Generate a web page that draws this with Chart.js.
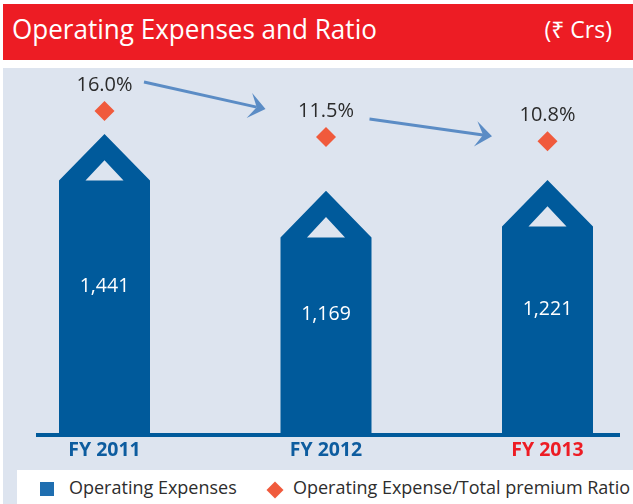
<!DOCTYPE html>
<html>
<head>
<meta charset="utf-8">
<script src="https://cdn.jsdelivr.net/npm/chart.js@4.4.1/dist/chart.umd.min.js"></script>
<style>
html,body{margin:0;padding:0;background:#fff;width:633px;height:504px;overflow:hidden;font-family:"Open Sans","Noto Sans","DejaVu Sans",sans-serif}
#titlebar{position:absolute;left:3px;top:4px;width:630px;height:56px;background:#ed1c24;color:#fff;overflow:hidden}
#title{position:absolute;left:9px;top:11px;font-size:27px;line-height:27px;white-space:nowrap;transform:scaleX(0.965);transform-origin:0 0}
#unit{position:absolute;right:21px;top:14px;font-size:23px;line-height:23px;white-space:nowrap;font-family:"Open Sans","Noto Sans","DejaVu Sans",sans-serif}
#panel{position:absolute;left:3px;top:68px;width:630px;height:436px;background:#dde4ef}
#wrap{position:absolute;left:0;top:0;width:633px;height:504px}
#legend{position:absolute;left:17px;top:470px;width:616px;height:34px;background:#fff;overflow:hidden;white-space:nowrap;color:#2d2d2d;font-size:18px}
.lg-text{position:absolute;top:7px;line-height:20px;font-size:18px}
</style>
</head>
<body>
<div id="titlebar"><div id="title">Operating Expenses and Ratio</div><div id="unit">(₹ Crs)</div></div>
<div id="panel"></div>
<div id="wrap"><canvas id="c" width="633" height="504"></canvas></div>
<div id="legend"></div>
<script>
// ---- data ----
const categories = ['FY 2011', 'FY 2012', 'FY 2013'];
const opexValues = [1441, 1169, 1221];
const opexLabels = ['1,441', '1,169', '1,221'];
const ratioValues = [16.0, 11.5, 10.8];
const ratioLabels = ['16.0%', '11.5%', '10.8%'];
const seriesNames = ['Operating Expenses', 'Operating Expense/Total premium Ratio'];

// ---- styles ----
const BAR = '#005a9b';
const DIAMOND = '#f05a3c';
const ARROW = '#5b8cc5';
const TICK_BLUE = '#0d5c9f';
const TICK_RED = '#ed1c24';
const FONT = '"Open Sans","Noto Sans","DejaVu Sans",sans-serif';

const housePlugin = {
  id: 'house',
  beforeDatasetDraw(chart, args) {
    const ds = chart.data.datasets[args.index];
    if (ds.type !== 'bar') return;
    const ctx = chart.ctx;
    ctx.save();
    args.meta.data.forEach(bar => {
      const p = bar.getProps(['x', 'y', 'base', 'width'], true);
      const L = p.x - p.width / 2, R = p.x + p.width / 2;
      const rh = p.width * 0.512;
      const eave = p.y + rh;
      const iw = p.width * 0.209;
      ctx.beginPath();
      ctx.moveTo(L, p.base);
      ctx.lineTo(L, eave);
      ctx.lineTo(p.x, p.y);
      ctx.lineTo(R, eave);
      ctx.lineTo(R, p.base);
      ctx.closePath();
      ctx.moveTo(p.x - iw, eave);
      ctx.lineTo(p.x, eave - iw * 1.07);
      ctx.lineTo(p.x + iw, eave);
      ctx.closePath();
      ctx.fillStyle = ds.backgroundColor;
      ctx.fill('evenodd');
    });
    ctx.restore();
    return false;
  }
};

function drawArrow(ctx, x0, y0, x1, y1) {
  const dx = x1 - x0, dy = y1 - y0, len = Math.hypot(dx, dy);
  const ux = dx / len, uy = dy / len, nx = -uy, ny = ux;
  const head = 16.5, half = 12.8, notch = 9;
  ctx.save();
  ctx.strokeStyle = ARROW; ctx.fillStyle = ARROW; ctx.lineWidth = 3;
  ctx.beginPath(); ctx.moveTo(x0, y0); ctx.lineTo(x1 - ux * notch, y1 - uy * notch); ctx.stroke();
  ctx.beginPath();
  ctx.moveTo(x1, y1);
  ctx.lineTo(x1 - ux * head + nx * half, y1 - uy * head + ny * half);
  ctx.lineTo(x1 - ux * notch, y1 - uy * notch);
  ctx.lineTo(x1 - ux * head - nx * half, y1 - uy * head - ny * half);
  ctx.closePath(); ctx.fill();
  ctx.restore();
}

const annotPlugin = {
  id: 'annot',
  afterDatasetsDraw(chart) {
    const ctx = chart.ctx;
    const xs = chart.scales.x, ys = chart.scales.y;
    const bars = chart.getDatasetMeta(0).data;
    const pts = chart.getDatasetMeta(1).data;
    ctx.save();
    // baseline
    const by = ys.getPixelForValue(0);
    ctx.fillStyle = BAR;
    ctx.fillRect(xs.left - 68.5, by - 2, (xs.right + 72.5) - (xs.left - 68.5), 4);
    // value labels in bars
    ctx.fillStyle = '#ffffff';
    ctx.font = '19.5px ' + FONT;
    ctx.textAlign = 'center';
    ctx.textBaseline = 'middle';
    bars.forEach((b, i) => {
      ctx.fillText(opexLabels[i], b.x, (b.y + b.base) / 2 + 2);
    });
    // ratio labels
    ctx.fillStyle = '#2b2b2b';
    ctx.font = '20px ' + FONT;
    pts.forEach((p, i) => {
      ctx.fillText(ratioLabels[i], p.x, p.y - 26);
    });
    // arrows between ratio points
    drawArrow(ctx, pts[0].x + 39.5, pts[0].y - 29, pts[1].x - 60.5, pts[1].y - 28);
    drawArrow(ctx, pts[1].x + 43.5, pts[1].y - 18, pts[2].x - 55.5, pts[2].y - 5);
    ctx.restore();
  }
};

const chart = new Chart(document.getElementById('c'), {
  type: 'bar',
  data: {
    labels: categories,
    datasets: [
      {
        type: 'bar',
        label: seriesNames[0],
        data: opexValues,
        backgroundColor: BAR,
        borderWidth: 0,
        barThickness: 91,
        yAxisID: 'y',
        order: 2,
        clip: false
      },
      {
        type: 'line',
        label: seriesNames[1],
        data: ratioValues,
        yAxisID: 'y2',
        showLine: false,
        pointStyle: 'rectRot',
        pointRadius: 10,
        pointHoverRadius: 10,
        pointBackgroundColor: DIAMOND,
        pointBorderColor: DIAMOND,
        pointBorderWidth: 0,
        backgroundColor: DIAMOND,
        borderColor: DIAMOND,
        order: 1,
        clip: false
      }
    ]
  },
  options: {
    responsive: false,
    animation: false,
    events: [],
    layout: { padding: { top: 59, left: 104.5, right: 85.5, bottom: 37.6 } },
    plugins: { legend: { display: false }, tooltip: { enabled: false }, title: { display: false } },
    scales: {
      x: {
        type: 'category',
        offset: false,
        grid: { display: false, drawTicks: false, offset: false },
        border: { display: false },
        ticks: {
          padding: 4,
          maxRotation: 0,
          autoSkip: false,
          font: { family: FONT, size: 19.5, weight: 'bold' },
          color: (c) => c.index === categories.length - 1 ? TICK_RED : TICK_BLUE
        }
      },
      y: { display: false, min: 0, max: 1800 },
      y2: { display: false, min: -40, max: 25 }
    }
  },
  plugins: [housePlugin, annotPlugin]
});

// HTML legend built from the datasets
(function buildLegend() {
  const lg = document.getElementById('legend');
  const items = [
    { name: chart.data.datasets[0].label, color: '#1f6eb0', shape: 'square', mx: 23, tx: 52 },
    { name: chart.data.datasets[1].label, color: chart.data.datasets[1].backgroundColor, shape: 'diamond', mx: 250, tx: 276 }
  ];
  items.forEach(it => {
    const m = document.createElement('div');
    m.style.position = 'absolute';
    if (it.shape === 'square') {
      m.style.left = it.mx + 'px'; m.style.top = '12px';
      m.style.width = '14px'; m.style.height = '14px';
      m.style.background = it.color;
    } else {
      m.style.left = (it.mx + 2) + 'px'; m.style.top = '14px';
      m.style.width = '12px'; m.style.height = '12px';
      m.style.background = it.color;
      m.style.transform = 'rotate(45deg)';
    }
    lg.appendChild(m);
    const t = document.createElement('div');
    t.className = 'lg-text';
    t.style.left = it.tx + 'px';
    t.textContent = it.name;
    lg.appendChild(t);
  });
})();
</script>
</body>
</html>
